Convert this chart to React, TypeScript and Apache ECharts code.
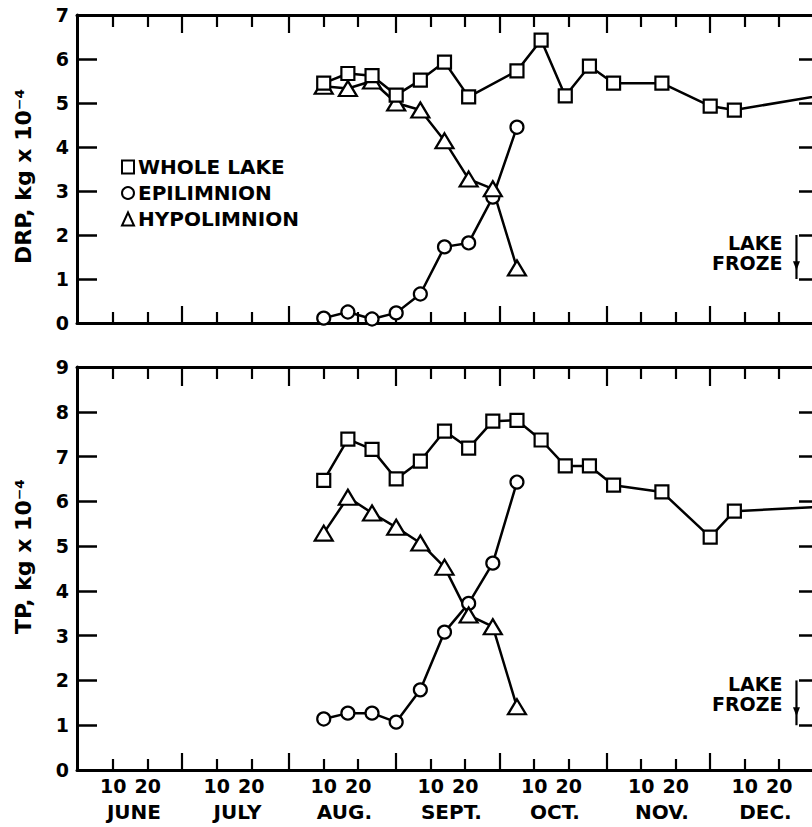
import React, { useEffect, useRef } from 'react';
import * as echarts from 'echarts';

// ---------- calendar (June 1 = day 1) ----------
const MONTHS = ['JUNE', 'JULY', 'AUG.', 'SEPT.', 'OCT.', 'NOV.', 'DEC.'];
const MONTH_LENGTHS = [30, 31, 31, 30, 31, 30, 31, 31]; // Jun..Jan
const DAY_TICKS = [10, 20];

// ---------- sampling dates (MM-DD) ----------
const DATES_WHOLE = ['08-10', '08-17', '08-24', '08-31', '09-07', '09-14', '09-21', '09-28', '10-05', '10-12', '10-19', '10-26', '11-02', '11-16', '11-30', '12-07', '01-04'];
const DATES_DRP_WHOLE = ['08-10', '08-17', '08-24', '08-31', '09-07', '09-14', '09-21', '10-05', '10-12', '10-19', '10-26', '11-02', '11-16', '11-30', '12-07', '01-04'];
const DATES_LAYERS = ['08-10', '08-17', '08-24', '08-31', '09-07', '09-14', '09-21', '09-28', '10-05'];

// ---------- DRP, kg x 10^-4 ----------
const DRP_WHOLE = [5.45, 5.67, 5.62, 5.18, 5.52, 5.93, 5.14, 5.73, 6.43, 5.16, 5.84, 5.45, 5.45, 4.93, 4.84, 5.21];
const DRP_EPI = [0.11, 0.25, 0.09, 0.23, 0.66, 1.73, 1.82, 2.86, 4.45];
const DRP_HYPO = [5.38, 5.33, 5.5, 5.0, 4.84, 4.14, 3.27, 3.05, 1.25];

// ---------- TP, kg x 10^-4 ----------
const TP_WHOLE = [6.47, 7.39, 7.16, 6.5, 6.9, 7.57, 7.19, 7.79, 7.81, 7.37, 6.79, 6.79, 6.36, 6.21, 5.2, 5.78, 5.89];
const TP_EPI = [1.14, 1.27, 1.27, 1.07, 1.79, 3.08, 3.72, 4.62, 6.43];
const TP_HYPO = [5.29, 6.09, 5.74, 5.42, 5.07, 4.53, 3.46, 3.2, 1.41];

// ---------- lake froze annotation ----------
const FREEZE_DATE = '12-25';
const FREEZE_RANGE = [2, 1];
const FREEZE_ARROW_Y = 1.3;
const FREEZE_LABEL_Y = [1.6, 1.7];
const FREEZE_TEXT = 'LAKE\nFROZE';

const NAMES = ['WHOLE LAKE', 'EPILIMNION', 'HYPOLIMNION'];
const Y_NAMES = ['DRP, kg x 10\u207B\u2074', 'TP, kg x 10\u207B\u2074'];
const Y_MAX = [7, 9];

const MONTH_OFFSETS: number[] = [];
MONTH_LENGTHS.forEach((_, i) => MONTH_OFFSETS.push(i === 0 ? 0 : MONTH_OFFSETS[i - 1] + MONTH_LENGTHS[i - 1]));

const toDay = (s: string) => {
  const [m, d] = s.split('-').map(Number);
  const idx = (m - 6 + 12) % 12;
  return MONTH_OFFSETS[idx] + d;
};

const SHORT_TICKS = MONTHS.flatMap((_, i) => DAY_TICKS.map((d) => MONTH_OFFSETS[i] + d));
const LONG_TICKS = MONTH_OFFSETS.slice(1, MONTHS.length);
const MONTH_MIDS = MONTHS.map((_, i) => MONTH_OFFSETS[i] + 16);

const X_MIN = -0.5;
const X_MAX = 212.5;

const FONT = 'DejaVu Sans';
const txt = { fontFamily: FONT, fontWeight: 'bold' as const, color: '#000', fontSize: 19 };

const dayLabel = (v: number) => {
  let i = 0;
  for (let k = 0; k < MONTH_OFFSETS.length; k++) if (MONTH_OFFSETS[k] < v) i = k;
  return String(Math.round(v - MONTH_OFFSETS[i]));
};
const monthLabel = (v: number) => {
  const i = MONTH_MIDS.findIndex((m) => Math.abs(m - v) < 0.01);
  return i >= 0 ? MONTHS[i] : '';
};

const pair = (dates: string[], vals: number[]) => dates.map((d, i) => [toDay(d), vals[i]]);

function baseX(gridIndex: number, position: 'top' | 'bottom') {
  return {
    type: 'value', gridIndex, position, min: X_MIN, max: X_MAX,
    splitLine: { show: false },
    axisLine: { show: false, onZero: false },
    axisTick: { show: false },
    axisLabel: { show: false },
  };
}
function tickX(gridIndex: number, position: 'top' | 'bottom', values: number[], length: number, line: boolean) {
  const a: any = baseX(gridIndex, position);
  a.axisLine = { show: true, onZero: false, lineStyle: { color: '#000', width: 3, opacity: line ? 1 : 0 } };
  a.axisTick = { show: true, inside: true, length, customValues: values, lineStyle: { color: '#000', width: 2.2, opacity: 1 } };
  return a;
}

export default function App() {
  const ref = useRef<HTMLDivElement>(null);
  useEffect(() => {
    if (!ref.current) return;
    const chart = echarts.init(ref.current, undefined, { renderer: 'svg' });

    const xAxis: any[] = [];
    // grid 0
    xAxis.push(tickX(0, 'bottom', SHORT_TICKS, 11, true)); // 0
    xAxis.push(tickX(0, 'bottom', LONG_TICKS, 17, false)); // 1
    xAxis.push(tickX(0, 'top', SHORT_TICKS, 12, true)); // 2
    xAxis.push(tickX(0, 'top', LONG_TICKS, 18, false)); // 3
    // grid 1
    const labelled = tickX(1, 'bottom', SHORT_TICKS, 11, true);
    labelled.axisLabel = { show: true, customValues: SHORT_TICKS, formatter: dayLabel, margin: 6, ...txt };
    xAxis.push(labelled); // 4
    xAxis.push(tickX(1, 'bottom', LONG_TICKS, 17, false)); // 5
    const months: any = baseX(1, 'bottom');
    months.axisLabel = { show: true, customValues: MONTH_MIDS, formatter: monthLabel, margin: 32, ...txt, fontSize: 20 };
    xAxis.push(months); // 6
    xAxis.push(tickX(1, 'top', SHORT_TICKS, 12, true)); // 7
    xAxis.push(tickX(1, 'top', LONG_TICKS, 19, false)); // 8

    const yAxis: any[] = [];
    [0, 1].forEach((g) => {
      yAxis.push({
        type: 'value', gridIndex: g, position: 'left', min: 0, max: Y_MAX[g], interval: 1,
        splitLine: { show: false },
        axisLine: { show: true, onZero: false, lineStyle: { color: '#000', width: 3 } },
        axisTick: { show: true, inside: true, length: 20, lineStyle: { color: '#000', width: 2.5 } },
        axisLabel: { ...txt, margin: 8 },
        name: Y_NAMES[g], nameLocation: 'middle', nameGap: 43, nameRotate: 90,
        nameTextStyle: { ...txt, fontSize: 22, padding: g === 0 ? [0, 15, 0, 0] : [0, 0, 0, 24] },
      });
      yAxis.push({
        type: 'value', gridIndex: g, position: 'right', min: 0, max: Y_MAX[g], interval: 1,
        splitLine: { show: false },
        axisLine: { show: true, onZero: false, lineStyle: { color: '#000', width: 2, opacity: 0 } },
        axisTick: { show: true, inside: true, length: 13, lineStyle: { color: '#000', width: 2.5, opacity: 1 } },
        axisLabel: { show: false },
      });
    });

    const lineSeries = (name: string, xi: number, yi: number, data: number[][], symbol: string, size: any) => ({
      type: 'line', name, xAxisIndex: xi, yAxisIndex: yi, data, symbol, symbolSize: size,
      showAllSymbol: true, clip: true,
      itemStyle: { color: '#fff', borderColor: '#000', borderWidth: 2.2 },
      lineStyle: { color: '#000', width: 2.5 },
      emphasis: { disabled: true },
    });

    const panels = [
      { xi: 0, yi: 0, whole: pair(DATES_DRP_WHOLE, DRP_WHOLE), epi: pair(DATES_LAYERS, DRP_EPI), hypo: pair(DATES_LAYERS, DRP_HYPO) },
      { xi: 4, yi: 2, whole: pair(DATES_WHOLE, TP_WHOLE), epi: pair(DATES_LAYERS, TP_EPI), hypo: pair(DATES_LAYERS, TP_HYPO) },
    ];
    const series: any[] = [];
    const fd = toDay(FREEZE_DATE);
    panels.forEach((p, g) => {
      series.push(lineSeries(NAMES[1], p.xi, p.yi, p.epi, 'circle', 13));
      series.push(lineSeries(NAMES[2], p.xi, p.yi, p.hypo, 'triangle', [18, 15]));
      series.push(lineSeries(NAMES[0], p.xi, p.yi, p.whole, 'rect', 13));
      series.push({
        type: 'line', name: '_froze', xAxisIndex: p.xi, yAxisIndex: p.yi, symbol: 'none',
        data: FREEZE_RANGE.map((v) => [fd, v]), lineStyle: { color: '#000', width: 2.2 },
      });
      series.push({
        type: 'scatter', name: '_arrow', xAxisIndex: p.xi, yAxisIndex: p.yi,
        data: [[fd, FREEZE_ARROW_Y]], symbol: 'triangle', symbolRotate: 180, symbolSize: [7, 9],
        itemStyle: { color: '#000', opacity: 1 },
      });
      series.push({
        type: 'scatter', name: '_label', xAxisIndex: p.xi, yAxisIndex: p.yi,
        data: [[fd, FREEZE_LABEL_Y[g]]], symbolSize: 0,
        itemStyle: { opacity: 1 },
        label: { show: true, position: 'left', distance: 14, formatter: FREEZE_TEXT, ...txt, lineHeight: 20, opacity: 1 },
      });
    });

    chart.setOption({
      animation: false,
      backgroundColor: '#fff',
      grid: [
        { left: 77, top: 15, right: 0, height: 308 },
        { left: 77, top: 367, right: 0, height: 403 },
      ],
      legend: {
        orient: 'vertical', left: 121, top: 157, itemWidth: 12, itemHeight: 13, itemGap: 6, padding: 0,
        selectedMode: false,
        textStyle: { ...txt, fontSize: 20, lineHeight: 19.5, padding: [0, 0, 0, -1] },
        itemStyle: { color: '#fff', borderColor: '#000', borderWidth: 2 },
        data: [
          { name: NAMES[0], icon: 'rect' },
          { name: NAMES[1], icon: 'circle' },
          { name: NAMES[2], icon: 'triangle' },
        ],
      },
      xAxis,
      yAxis,
      series,
    });
    return () => chart.dispose();
  }, []);
  return <div ref={ref} style={{ position: 'fixed', left: 0, top: 0, width: 812, height: 827 }} />;
}
